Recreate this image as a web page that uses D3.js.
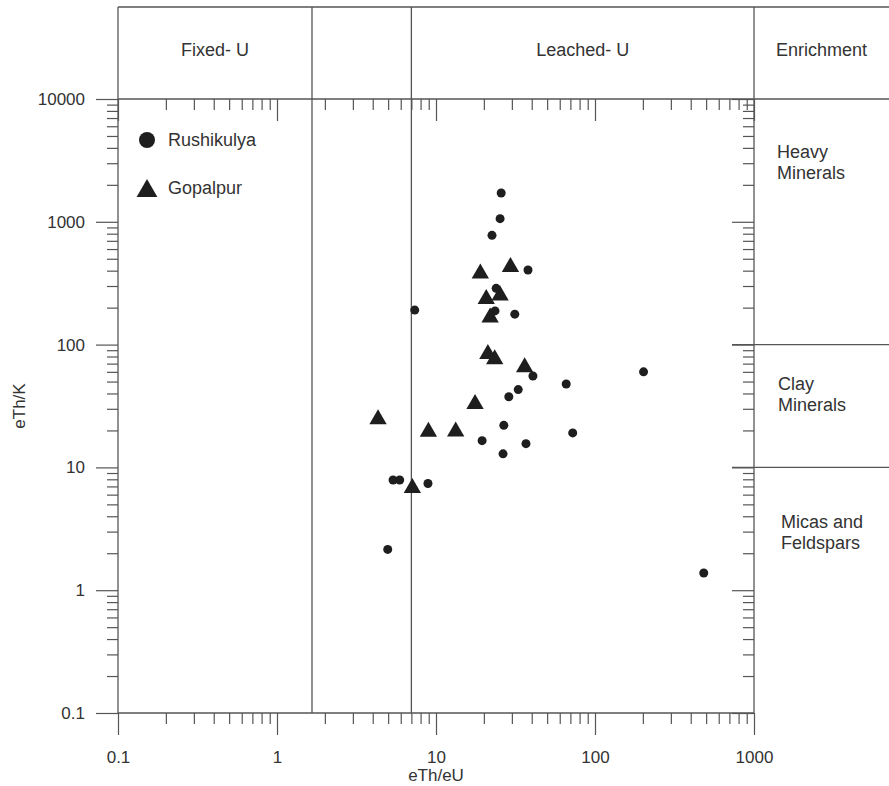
<!DOCTYPE html>
<html>
<head>
<meta charset="utf-8">
<script src="https://cdn.jsdelivr.net/npm/d3@7"></script>
<style>
  html, body { margin: 0; padding: 0; background: #fff; }
  svg { display: block; font-family: "Liberation Sans", Arial, sans-serif; }
</style>
</head>
<body>
<svg id="chart" width="889" height="786"></svg>
<script>
// ---- data ----
const rushikulyaX = [25.7, 25.3, 22.5, 37.9, 23.9, 23.5, 31.3, 7.35, 40.7, 32.9, 28.7, 65.9, 202, 72.4, 26.7, 19.5, 36.8, 26.4, 5.37, 5.91, 8.9, 4.97, 483];
const rushikulyaY = [1716, 1060, 776, 405, 287, 188, 177, 191, 55.5, 43, 37.6, 47.8, 60, 19.1, 22, 16.5, 15.6, 12.9, 7.9, 7.9, 7.4, 2.15, 1.38];
const gopalpurX = [19.0, 29.4, 20.7, 25.3, 21.9, 21.2, 23.4, 36.1, 17.6, 4.32, 8.96, 13.3, 7.1];
const gopalpurY = [380, 428, 235, 251, 166, 84, 76, 65.5, 32.8, 24.7, 19.5, 19.6, 6.8];
const xTickLabels = [0.1, 1, 10, 100, 1000];
const yTickLabels = [0.1, 1, 10, 100, 1000, 10000];
const uZoneBounds = [1.66, 7];            // eTh/eU boundaries
const uZoneNames = ["Fixed- U", "", "Leached- U"];
const mineralBounds = [100, 10];          // eTh/K boundaries on the right panel
const mineralNames = [["Heavy", "Minerals"], ["Clay", "Minerals"], ["Micas and", "Feldspars"]];
const seriesNames = ["Rushikulya", "Gopalpur"];

// ---- layout ----
const W = 889, H = 786;
const L = 118, R = 754, T = 99, B = 713, HEAD = 7;
const lineColor = "#555", textColor = "#333";
const tickFont = 17, labelFont = 18;

const svg = d3.select("#chart");
const x = d3.scaleLog().domain([0.1, 1000]).range([L, R]);
const y = d3.scaleLog().domain([0.1, 10000]).range([B, T]);

function allTicks(lo, hi) {
  const t = [];
  for (let e = Math.log10(lo); e < Math.log10(hi); e++) {
    for (let m = 1; m <= 9; m++) t.push(+(m * Math.pow(10, e)).toPrecision(3));
  }
  t.push(hi);
  return t;
}
const isMajor = v => Math.abs(Math.log10(v) - Math.round(Math.log10(v))) < 1e-9;
const xt = allTicks(0.1, 1000), yt = allTicks(0.1, 10000);

function styleAxis(g) {
  g.select(".domain").remove();
  g.selectAll(".tick line").attr("stroke", lineColor).attr("stroke-width", 1.2);
  g.selectAll(".tick text").attr("fill", textColor).attr("font-size", tickFont)
    .attr("font-family", "'Liberation Sans', Arial, sans-serif");
}

// bottom axis (outward)
const gb = svg.append("g").attr("transform", `translate(0,${B})`)
  .call(d3.axisBottom(x).tickValues(xt).tickSize(22).tickPadding(16)
    .tickFormat(d => xTickLabels.includes(d) ? String(d) : ""));
gb.selectAll(".tick line").attr("y2", d => isMajor(d) ? 22 : 11);
styleAxis(gb);

// top axis (inward)
const gt = svg.append("g").attr("transform", `translate(0,${T})`)
  .call(d3.axisBottom(x).tickValues(xt).tickFormat(""));
gt.selectAll(".tick line").attr("y2", d => isMajor(d) ? 22 : 11);
styleAxis(gt);

// left axis (outward)
const gl = svg.append("g").attr("transform", `translate(${L},0)`)
  .call(d3.axisLeft(y).tickValues(yt).tickSize(22).tickPadding(11)
    .tickFormat(d => yTickLabels.includes(d) ? String(d) : ""));
gl.selectAll(".tick line").attr("x2", d => isMajor(d) ? -22 : -11);
styleAxis(gl);

// right axis (inward)
const gr = svg.append("g").attr("transform", `translate(${R},0)`)
  .call(d3.axisLeft(y).tickValues(yt).tickFormat(""));
gr.selectAll(".tick line").attr("x2", d => isMajor(d) ? -22 : -11);
styleAxis(gr);

// frame and zone lines
const frame = svg.append("g").attr("stroke", lineColor).attr("stroke-width", 1.3).attr("fill", "none");
frame.append("line").attr("x1", L).attr("x2", W).attr("y1", HEAD).attr("y2", HEAD);
frame.append("line").attr("x1", L).attr("x2", W).attr("y1", T).attr("y2", T);
frame.append("line").attr("x1", L).attr("x2", R).attr("y1", B).attr("y2", B);
frame.append("line").attr("x1", L).attr("x2", L).attr("y1", HEAD).attr("y2", B);
frame.append("line").attr("x1", R).attr("x2", R).attr("y1", HEAD).attr("y2", B);
uZoneBounds.forEach(v => {
  frame.append("line").attr("x1", x(v)).attr("x2", x(v)).attr("y1", HEAD).attr("y2", B);
});
mineralBounds.forEach(v => {
  frame.append("line").attr("x1", R - 22).attr("x2", W).attr("y1", y(v)).attr("y2", y(v));
});

// header labels
const zoneEdges = [x.invert(L), ...uZoneBounds, x.invert(R)];
uZoneNames.forEach((n, i) => {
  if (!n) return;
  const cx = (x(zoneEdges[i]) + x(zoneEdges[i + 1])) / 2;
  svg.append("text").attr("x", cx).attr("y", 56).attr("text-anchor", "middle")
    .attr("font-size", labelFont).attr("fill", textColor).text(n);
});
svg.append("text").attr("x", (R + W) / 2).attr("y", 56).attr("text-anchor", "middle")
  .attr("font-size", labelFont).attr("fill", textColor).text("Enrichment");

// right panel labels
const mBase = [158, 390, 528];
const mLeft = [777, 778, 781];
mineralNames.forEach((lines, i) => {
  const t = svg.append("text").attr("x", mLeft[i]).attr("y", mBase[i])
    .attr("font-size", labelFont).attr("fill", textColor);
  lines.forEach((s, j) => t.append("tspan").attr("x", mLeft[i]).attr("dy", j ? 21 : 0).text(s));
});

// axis titles
svg.append("text").attr("x", (L + R) / 2).attr("y", 781).attr("text-anchor", "middle")
  .attr("font-size", tickFont).attr("fill", textColor).text("eTh/eU");
svg.append("text").attr("transform", `translate(25,${(T + B) / 2}) rotate(-90)`)
  .attr("text-anchor", "middle").attr("font-size", tickFont).attr("fill", textColor).text("eTh/K");

// data
const rData = rushikulyaX.map((v, i) => ({ x: v, y: rushikulyaY[i] }));
const gData = gopalpurX.map((v, i) => ({ x: v, y: gopalpurY[i] }));
const markColor = "#1e1e1e";
svg.append("g").selectAll("circle").data(rData).join("circle")
  .attr("cx", d => x(d.x)).attr("cy", d => y(d.y)).attr("r", 4.5).attr("fill", markColor);
const tri = d3.symbol().type(d3.symbolTriangle).size(130);
svg.append("g").selectAll("path").data(gData).join("path")
  .attr("d", tri).attr("transform", d => `translate(${x(d.x)},${y(d.y)})`).attr("fill", markColor);

// legend
const lg = svg.append("g");
lg.append("circle").attr("cx", 147).attr("cy", 140).attr("r", 8).attr("fill", markColor);
lg.append("text").attr("x", 168).attr("y", 146).attr("font-size", labelFont).attr("fill", textColor).text(seriesNames[0]);
lg.append("path").attr("d", d3.symbol().type(d3.symbolTriangle).size(187)())
  .attr("transform", "translate(147,191)").attr("fill", markColor);
lg.append("text").attr("x", 168).attr("y", 194).attr("font-size", labelFont).attr("fill", textColor).text(seriesNames[1]);
</script>
</body>
</html>
